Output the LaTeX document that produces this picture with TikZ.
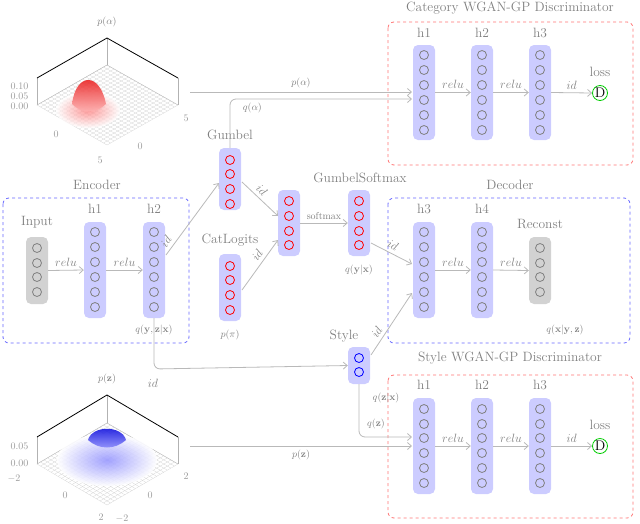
\documentclass[tikz,border=0pt]{standalone}
\usepackage{amsmath}
\usetikzlibrary{arrows.meta,calc}
\begin{document}
\begin{tikzpicture}[x=1pt,y=-1pt,
  lay/.style={fill=blue!20,rounded corners=5pt,minimum width=22pt,inner sep=0pt},
  glay/.style={fill=gray!35,rounded corners=5pt,minimum width=22pt,inner sep=0pt},
  neu/.style={circle,draw=gray,thick,minimum size=9pt,inner sep=0pt},
  conn/.style={draw=gray!55,thick,-{Straight Barb[length=4pt,width=7pt]}},
  ttl/.style={text=gray,font=\fontsize{13.5}{15}\selectfont},
  fn/.style={text=gray,font=\fontsize{12.5}{14}\selectfont\itshape},
  sm/.style={text=gray,font=\fontsize{10}{11}\selectfont},
  tick/.style={text=gray!80,font=\fontsize{10}{11}\selectfont},
  box/.style={dashed,thick,rounded corners=6pt}]
\useasboundingbox (0,0) rectangle (640,523);
\newcommand\mylayer[6]{%
  \node[#2,minimum height={#5-#4}] (#1) at (#3,{(#4+#5)/2}) {};
  \foreach \yy in {#6} {\node[neu] at (#3,\yy) {};}}
\newcommand\clayer[6]{%
  \node[#2,minimum height={#5-#4}] (#1) at (#3,{(#4+#5)/2}) {};
  \foreach \yy/\cc in {#6} {\node[neu,draw=\cc] at (#3,\yy) {};}}

% ---------- plots ----------
\newcommand\plotbox[5]{%
  \coordinate (T) at (107,#2); \coordinate (L) at (37,#3); \coordinate (R) at (178,#3); \coordinate (B) at (107,#4);
  \foreach \i in {0,0.05,...,1.01} {
    \draw[gray!40,very thin] ($(L)!\i!(T)$) -- ($(B)!\i!(R)$);
    \draw[gray!40,very thin] ($(L)!\i!(B)$) -- ($(T)!\i!(R)$);}
  \draw[gray!60] (37,#5) -- (37,#3) (107,#1) -- (107,#2) (178,#5) -- (178,#3);
  \draw[gray!50] (37,#3) -- (107,#2) -- (178,#3);
  \draw[black,thick] (37,#5) -- (107,#1) -- (178,#5);
}
\plotbox{38}{65}{105}{145}{78}
\shade[inner color=red!55,outer color=white,opacity=0.7] (88,110) ellipse (32 and 18);
\shade[top color=red!90!black,bottom color=red!25,opacity=0.9] (72,104) .. controls (76,72) and (100,72) .. (106,104) .. controls (96,114) and (82,114) .. (72,104);
\node[sm] at (107,22) {$p(\alpha)$};
\node[tick,anchor=east] at (32,86) {$0.10$};
\node[tick,anchor=east] at (32,96) {$0.05$};
\node[tick,anchor=east] at (32,106) {$0.00$};
\node[tick] at (56,134) {$0$}; \node[tick] at (100,160) {$5$};
\node[tick] at (140,146) {$0$}; \node[tick] at (186,118) {$5$};

\plotbox{395}{423}{464}{505}{437}
\shade[inner color=blue!40,outer color=white,opacity=0.9] (107,460) ellipse (50 and 26);
\shade[top color=blue!85!black,bottom color=blue!40,opacity=0.9] (88,440) .. controls (92,425) and (122,425) .. (126,440) .. controls (115,450) and (99,450) .. (88,440);
\node[sm] at (107,379) {$p(\mathbf{z})$};
\node[fn] at (153,383) {$id$};
\node[tick,anchor=east] at (32,446) {$0.05$};
\node[tick,anchor=east] at (32,463) {$0.00$};
\node[tick] at (14,479) {$-2$}; \node[tick] at (65,495) {$0$};
\node[tick] at (101,517) {$2$}; \node[tick] at (122,519) {$-2$};
\node[tick] at (150,495) {$0$}; \node[tick] at (186,476) {$2$};

% ---------- boxes ----------
\draw[box,blue!60] (3,198) rectangle (189,343);
\node[ttl] at (97,185) {Encoder};
\draw[box,blue!60] (388,198) rectangle (630,343);
\node[ttl] at (510,185) {Decoder};
\draw[box,red!55] (388,22) rectangle (633,165);
\node[ttl] at (510,8) {Category WGAN-GP Discriminator};
\draw[box,red!55] (388,375) rectangle (633,518);
\node[ttl] at (510,358) {Style WGAN-GP Discriminator};

% ---------- encoder ----------
\mylayer{in}{glay}{37}{237}{304}{248,263,277,292}
\node[ttl] at (37,222) {Input};
\mylayer{e1}{lay}{95}{222}{318}{232,247,262,277,292,307}
\node[ttl] at (95,209) {h1};
\mylayer{e2}{lay}{154}{222}{318}{232,247,262,277,292,307}
\node[ttl] at (154,209) {h2};
\node[sm] at (154,330) {$q(\mathbf{y},\mathbf{z}|\mathbf{x})$};
\draw[conn] (in.east) -- node[fn,above] {$relu$} (e1.west);
\draw[conn] (e1.east) -- node[fn,above] {$relu$} (e2.west);

% ---------- middle ----------
\clayer{gu}{lay}{230}{148}{210}{160/red,174/red,189/red,204/red}
\node[ttl] at (230,135) {Gumbel};
\clayer{cl}{lay}{230}{254}{321}{266/red,280/red,295/red,310/red}
\node[ttl] at (230,240) {CatLogits};
\node[sm] at (230,335) {$p(\pi)$};
\clayer{mx}{lay}{289}{190}{256}{201/red,216/red,231/red,245/red}
\clayer{gs}{lay}{359}{190}{256}{201/red,216/red,231/red,245/red}
\node[ttl] at (360,178) {GumbelSoftmax};
\node[sm] at (359,270) {$q(\mathbf{y}|\mathbf{x})$};
\clayer{st}{lay}{359}{347}{384}{358/blue,372/blue}
\node[ttl] at (344,336) {Style};

\coordinate (e2a) at (166,255);
\draw[conn] (e2a) -- node[fn,sloped,above,pos=0.12] {$id$} (219,183);
\draw[conn] (242,182) -- node[fn,sloped,above,pos=0.4] {$id$} (278,216);
\draw[conn] (242,290) -- node[fn,sloped,above,pos=0.6] {$id$} (278,240);
\draw[conn] (mx.east) -- node[sm,above] {softmax} (gs.west);
\draw[conn,rounded corners=6pt] (e2.south) -- (154,369) -- (st.west);

% ---------- decoder ----------
\mylayer{d1}{lay}{424}{222}{318}{232,247,262,277,292,307}
\node[ttl] at (424,209) {h3};
\mylayer{d2}{lay}{482}{222}{318}{232,247,262,277,292,307}
\node[ttl] at (482,209) {h4};
\mylayer{rc}{glay}{540}{237}{304}{248,263,277,292}
\node[ttl] at (540,224) {Reconst};
\node[sm] at (565,330) {$q(\mathbf{x}|\mathbf{y},\mathbf{z})$};
\draw[conn] (d1.east) -- node[fn,above] {$relu$} (d2.west);
\draw[conn] (d2.east) -- node[fn,above] {$relu$} (rc.west);
\draw[conn] (371,243) -- node[fn,sloped,above,pos=0.45] {$id$} (412,264);
\draw[conn] (371,355) -- node[fn,sloped,above,pos=0.3] {$id$} (412,293);

% ---------- category discriminator ----------
\mylayer{a1}{lay}{424}{45}{140}{55,70,85,100,115,130}
\mylayer{a2}{lay}{482}{45}{140}{55,70,85,100,115,130}
\mylayer{a3}{lay}{540}{45}{140}{55,70,85,100,115,130}
\node[ttl] at (424,33) {h1}; \node[ttl] at (482,33) {h2}; \node[ttl] at (540,33) {h3};
\node[circle,draw=green!80!black,thick,minimum size=15pt,inner sep=0pt,font=\fontsize{14}{14}\selectfont] (la) at (600,93) {D};
\node[ttl] at (600,72) {loss};
\draw[conn] (a1.east) -- node[fn,above] {$relu$} (a2.west);
\draw[conn] (a2.east) -- node[fn,above] {$relu$} (a3.west);
\draw[conn] (a3.east) -- node[fn,above] {$id$} (la.west);
\coordinate (pa) at (190,92);
\draw[conn] (pa) -- node[sm,above] {$p(\alpha)$} (412,92);
\draw[conn,rounded corners=6pt] (gu.north) -- (230,99) -- node[sm,pos=0.05,below right] {$q(\alpha)$} (412,99);

% ---------- style discriminator ----------
\mylayer{b1}{lay}{424}{398}{494}{409,424,438,453,468,483}
\mylayer{b2}{lay}{482}{398}{494}{409,424,438,453,468,483}
\mylayer{b3}{lay}{540}{398}{494}{409,424,438,453,468,483}
\node[ttl] at (424,385) {h1}; \node[ttl] at (482,385) {h2}; \node[ttl] at (540,385) {h3};
\node[circle,draw=green!80!black,thick,minimum size=15pt,inner sep=0pt,font=\fontsize{14}{14}\selectfont] (lb) at (600,446) {D};
\node[ttl] at (600,425) {loss};
\draw[conn] (b1.east |- lb) -- node[fn,above] {$relu$} (b2.west |- lb);
\draw[conn] (b2.east |- lb) -- node[fn,above] {$relu$} (b3.west |- lb);
\draw[conn] (b3.east |- lb) -- node[fn,above] {$id$} (lb.west);
\coordinate (pz) at (190,446);
\draw[conn] (pz) -- node[sm,below] {$p(\mathbf{z})$} (412,446);
\draw[conn,rounded corners=6pt] (st.south) -- (359,437) -- (412,437);
\node[sm] at (386,398) {$q(\mathbf{z}|\mathbf{x})$};
\node[sm] at (376,424) {$q(\mathbf{z})$};
\end{tikzpicture}
\end{document}
